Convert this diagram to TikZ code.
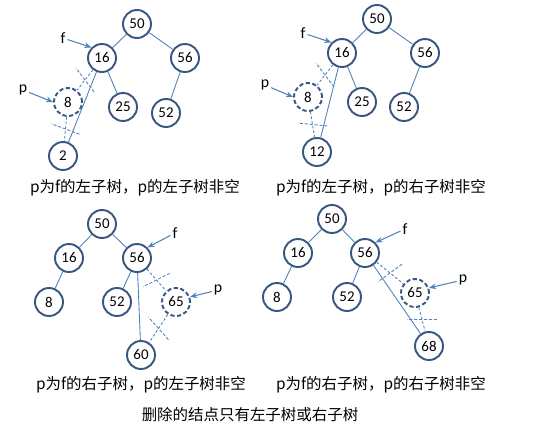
\documentclass[tikz,border=0pt]{standalone}
\usepackage{fontspec}
\setmainfont{Carlito}
\newfontfamily\cjk{Noto Sans CJK SC}
\usepackage{xcolor}
\definecolor{nodeblue}{RGB}{56,88,130}
\definecolor{edgeblue}{RGB}{79,129,189}
\usetikzlibrary{arrows.meta,calc}
\tikzset{
  tnode/.style={circle, draw=nodeblue, line width=1.1pt, fill=white, minimum size=0.56cm, inner sep=0pt, font=\fontsize{8.5}{10}\selectfont},
  pnode/.style={tnode, dash pattern=on 2.4pt off 1.4pt},
  link/.style={draw=edgeblue, line width=0.5pt},
  oldlink/.style={link, dash pattern=on 1.5pt off 1.2pt},
  cutline/.style={draw=edgeblue, line width=0.5pt, dash pattern=on 1.8pt off 1pt},
  ptr/.style={draw=edgeblue, line width=0.6pt, -{Stealth[length=4pt,width=3.2pt]}},
  tag/.style={inner sep=1pt, font=\fontsize{9}{10}\selectfont},
  captext/.style={inner sep=0pt, font=\cjk\fontsize{8.8}{10}\selectfont}
}
% short mark across a removed link
\newcommand\cutmark[2]{%
  \draw[cutline] ($(#1)!0.5!(#2)!8.5pt!75:(#2)$) -- ($(#1)!0.5!(#2)!8.5pt!-105:(#2)$);}

\begin{document}
\begin{tikzpicture}[x=0.02cm, y=-0.02cm]
  \useasboundingbox (0,0) rectangle (535,433);

  % p is left child of f, p has a left subtree
  \node[tnode] (a50) at (137,24) {50};
  \node[tnode] (a16) at (102,58) {16};
  \node[tnode] (a56) at (185,58) {56};
  \node[pnode] (a8) at (68,102) {8};
  \node[tnode] (a25) at (123,107) {25};
  \node[tnode] (a52) at (166,113) {52};
  \node[tnode] (a2) at (63,156) {2};
  \node[tag] (af) at (63,38) {f};
  \node[tag] (ap) at (23,90) {p};
  \draw[link] (a50) -- (a16);
  \draw[link] (a50) -- (a56);
  \draw[link] (a16) -- (a25);
  \draw[link] (a56) -- (a52);
  \draw[oldlink] (a16) -- (a8);
  \draw[oldlink] (a8) -- (a2);
  \draw[link] (a16) -- (a2);
  \cutmark{a16}{a8}
  \cutmark{a8}{a2}
  \draw[ptr] (af) -- (a16.north west);
  \draw[ptr] (ap) -- (a8.west);
  \node[captext] (acap) at (135,188) {p为f的左子树，p的左子树非空};

  % p is left child of f, p has a right subtree
  \node[tnode] (b50) at (377,19) {50};
  \node[tnode] (b16) at (342,53) {16};
  \node[tnode] (b56) at (425,53) {56};
  \node[pnode] (b8) at (308,97) {8};
  \node[tnode] (b25) at (362,102) {25};
  \node[tnode] (b52) at (404,107) {52};
  \node[tnode] (b12) at (317,152) {12};
  \node[tag] (bf) at (303,33) {f};
  \node[tag] (bp) at (265,85) {p};
  \draw[link] (b50) -- (b16);
  \draw[link] (b50) -- (b56);
  \draw[link] (b16) -- (b25);
  \draw[link] (b56) -- (b52);
  \draw[oldlink] (b16) -- (b8);
  \draw[oldlink] (b8) -- (b12);
  \draw[link] (b16) -- (b12);
  \cutmark{b16}{b8}
  \cutmark{b8}{b12}
  \draw[ptr] (bf) -- (b16.north west);
  \draw[ptr] (bp) -- (b8.west);
  \node[captext] (bcap) at (381,188) {p为f的左子树，p的右子树非空};

  % p is right child of f, p has a left subtree
  \node[tnode] (c50) at (102,224) {50};
  \node[tnode] (c16) at (69,258) {16};
  \node[tnode] (c56) at (137,258) {56};
  \node[tnode] (c8) at (49,302) {8};
  \node[tnode] (c52) at (117,302) {52};
  \node[pnode] (c65) at (176,302) {65};
  \node[tnode] (c60) at (141,355) {60};
  \node[tag] (cf) at (175,233) {f};
  \node[tag] (cp) at (218,290) {p};
  \draw[link] (c50) -- (c16);
  \draw[link] (c50) -- (c56);
  \draw[link] (c16) -- (c8);
  \draw[link] (c56) -- (c52);
  \draw[oldlink] (c56) -- (c65);
  \draw[oldlink] (c65) -- (c60);
  \draw[link] (c56) -- (c60);
  \cutmark{c56}{c65}
  \cutmark{c65}{c60}
  \draw[ptr] (cf) -- (c56.north east);
  \draw[ptr] (cp) -- (c65.20);
  \node[captext] (ccap) at (141,385) {p为f的右子树，p的左子树非空};

  % p is right child of f, p has a right subtree
  \node[tnode] (d50) at (332,219) {50};
  \node[tnode] (d16) at (298,253) {16};
  \node[tnode] (d56) at (365,253) {56};
  \node[tnode] (d8) at (277,297) {8};
  \node[tnode] (d52) at (347,297) {52};
  \node[pnode] (d65) at (415,293) {65};
  \node[tnode] (d68) at (429,346) {68};
  \node[tag] (df) at (405,229) {f};
  \node[tag] (dp) at (463,280) {p};
  \draw[link] (d50) -- (d16);
  \draw[link] (d50) -- (d56);
  \draw[link] (d16) -- (d8);
  \draw[link] (d56) -- (d52);
  \draw[oldlink] (d56) -- (d65);
  \draw[oldlink] (d65) -- (d68);
  \draw[link] (d56) -- (d68);
  \cutmark{d56}{d65}
  \cutmark{d65}{d68}
  \draw[ptr] (df) -- (d56.north east);
  \draw[ptr] (dp) -- (d65.20);
  \node[captext] (dcap) at (381,385) {p为f的右子树，p的右子树非空};

  \node[captext] (title) at (250,415) {删除的结点只有左子树或右子树};
\end{tikzpicture}
\end{document}
